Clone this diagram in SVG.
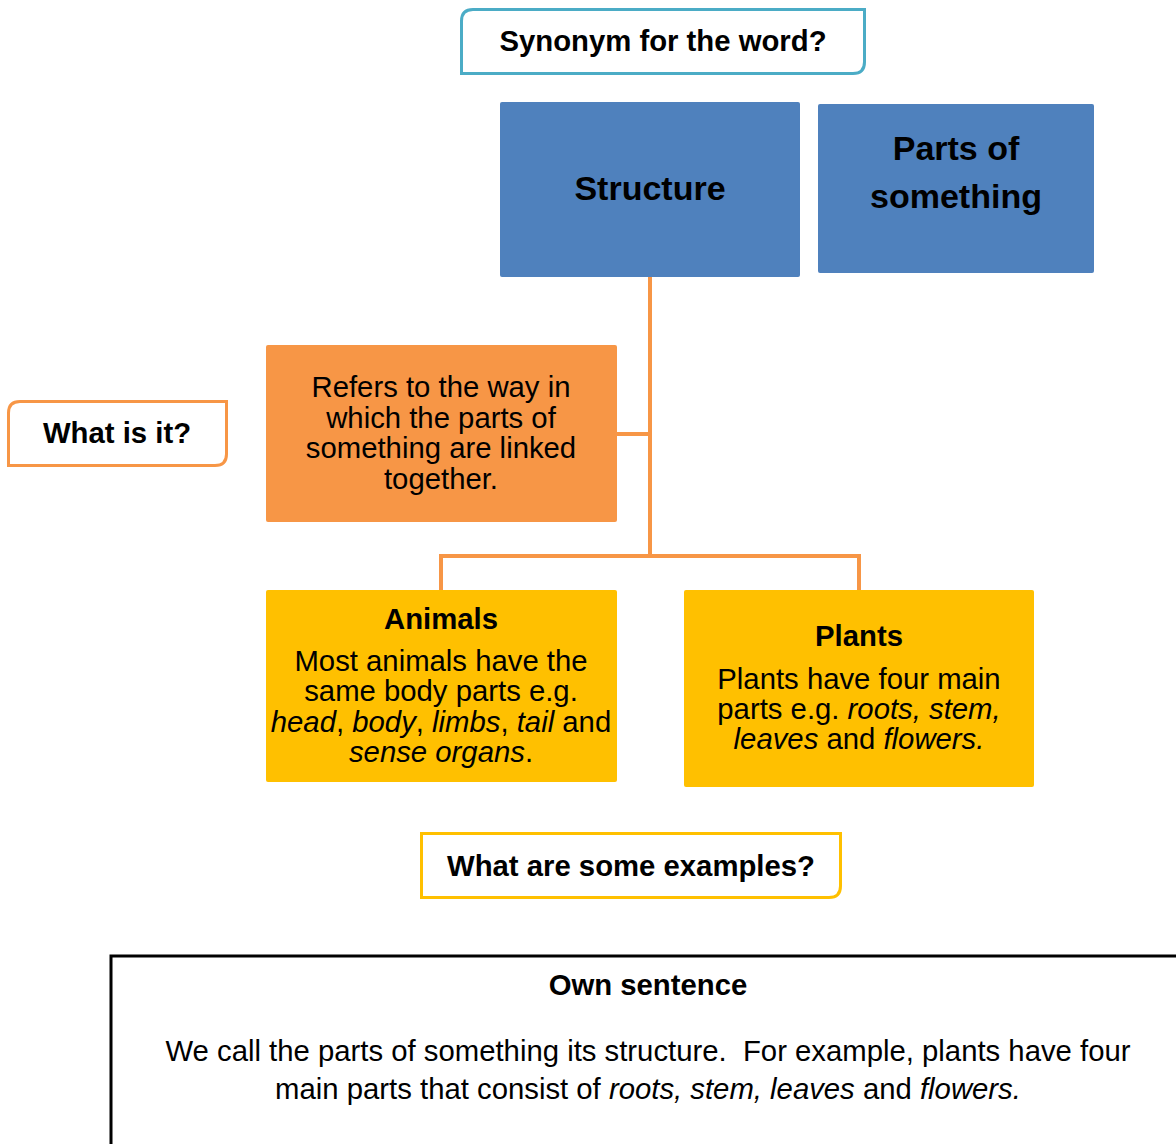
<svg xmlns="http://www.w3.org/2000/svg" width="1176" height="1144" viewBox="0 0 1176 1144">
<style>
text{font-family:"Liberation Sans",Arial,sans-serif;fill:#000;text-anchor:middle;font-size:29.3px}
.b{font-weight:bold}
.i{font-style:italic}
.lbl{fill:#fff;stroke-width:3}
.conn{fill:none;stroke:#F79646;stroke-width:4}
</style>
<rect width="1176" height="1144" fill="#fff"/>
<g id="connectors">
<path class="conn" d="M650 277 V556"/>
<path class="conn" d="M617 434 H650"/>
<path class="conn" d="M441 590 V556 H859 V590"/>
</g>
<g id="synonym-label">
<path class="lbl" stroke="#4BACC6" d="M473 9.5 H864.5 V62 Q864.5 73.5 853 73.5 H461.5 V21 Q461.5 9.5 473 9.5 Z"/>
<text class="b" x="663" y="51">Synonym for the word?</text>
</g>
<g id="structure">
<rect x="500" y="102" width="300" height="175" rx="2" fill="#4F81BD"/>
<text class="b" x="650" y="200" style="font-size:34px">Structure</text>
</g>
<g id="parts-of-something">
<rect x="818" y="104" width="276" height="169" rx="2" fill="#4F81BD"/>
<text class="b" x="956" y="160" style="font-size:34px">Parts of</text>
<text class="b" x="956" y="208" style="font-size:34px">something</text>
</g>
<g id="what-is-it-label">
<path class="lbl" stroke="#F79646" d="M20 401.5 H226.5 V454 Q226.5 465.5 215 465.5 H8.5 V413 Q8.5 401.5 20 401.5 Z"/>
<text class="b" x="117" y="443">What is it?</text>
</g>
<g id="definition">
<rect x="266" y="345" width="351" height="177" rx="2" fill="#F79646"/>
<text x="441" y="397">Refers to the way in</text>
<text x="441" y="428">which the parts of</text>
<text x="441" y="458">something are linked</text>
<text x="441" y="489">together.</text>
</g>
<g id="animals">
<rect x="266" y="590" width="351" height="192" rx="2" fill="#FFC000"/>
<text class="b" x="441" y="629">Animals</text>
<text x="441" y="671">Most animals have the</text>
<text x="441" y="701">same body parts e.g.</text>
<text x="441" y="732"><tspan class="i">head</tspan>, <tspan class="i">body</tspan>, <tspan class="i">limbs</tspan>, <tspan class="i">tail</tspan> and</text>
<text x="441" y="762"><tspan class="i">sense organs</tspan>.</text>
</g>
<g id="plants">
<rect x="684" y="590" width="350" height="197" rx="2" fill="#FFC000"/>
<text class="b" x="859" y="646">Plants</text>
<text x="859" y="689">Plants have four main</text>
<text x="859" y="719">parts e.g. <tspan class="i">roots, stem,</tspan></text>
<text x="859" y="749"><tspan class="i">leaves</tspan> and <tspan class="i">flowers.</tspan></text>
</g>
<g id="examples-label">
<path class="lbl" stroke="#FFC000" d="M421.5 833.5 H840.5 V886 Q840.5 897.5 829 897.5 H421.5 Z"/>
<text class="b" x="631" y="876">What are some examples?</text>
</g>
<g id="own-sentence">
<rect x="111" y="956" width="1080" height="200" fill="#fff" stroke="#000" stroke-width="3"/>
<text class="b" x="648" y="995">Own sentence</text>
<text x="648" y="1061">We call the parts of something its structure.&#160; For example, plants have four</text>
<text x="648" y="1099">main parts that consist of <tspan class="i">roots, stem, leaves</tspan> and <tspan class="i">flowers.</tspan></text>
</g>
</svg>
